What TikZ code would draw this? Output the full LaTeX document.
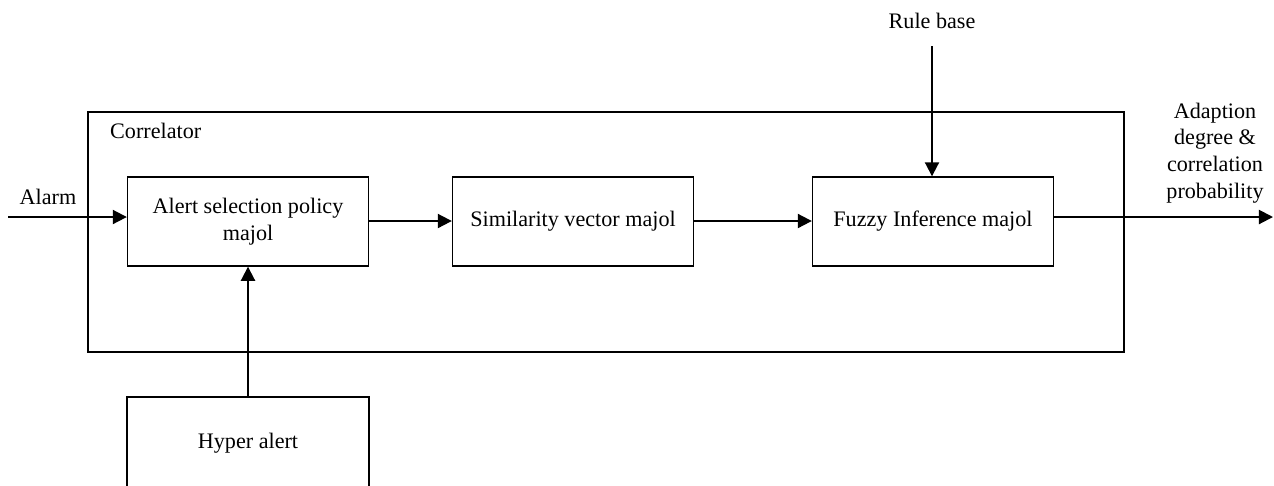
\documentclass[tikz,border=0pt]{standalone}
\usepackage{fontspec}
\setmainfont{Liberation Serif}
\usetikzlibrary{arrows.meta}

\tikzset{
  block/.style={draw,line width=0.8pt,minimum width=4.82cm,minimum height=1.78cm,align=center},
  flow/.style={line width=1.1pt,-{Triangle[length=8pt,width=8pt]}}
}

\begin{document}
\begin{tikzpicture}[x=0.02cm,y=-0.02cm,font=\fontsize{12.6}{15.2}\selectfont]
  \useasboundingbox (0,0) rectangle (1274,485);

  % Correlator frame
  \draw[line width=0.8pt] (88,112) rectangle (1124,352);
  \node[anchor=west] (corr) at (104,131) {Correlator};

  % Blocks inside the correlator
  \node[block] (asp) at (248,221.5) {Alert selection policy\\majol};
  \node[block] (sim) at (573,221.5) {Similarity vector majol};
  \node[block] (fuz) at (933,221.5) {Fuzzy Inference majol};

  % Hyper alert block (runs past the bottom edge)
  \draw[line width=0.8pt] (127,500) -- (127,397) -- (369,397) -- (369,500);
  \node (hyper) at (248,443) {Hyper alert};
  \coordinate (hypertop) at (248,397);

  % Inputs and outputs
  \coordinate (alarmin) at (8,217);
  \node (alarm) at (48,197) {Alarm};
  \node (rule) at (932,21) {Rule base};
  \coordinate (rulein) at (932,46);
  \coordinate (out) at (1273,217);
  \node[align=center] (outlbl) at (1215,153) {Adaption\\degree \&\\correlation\\probability};

  % Draw the connectors
  \draw[flow] (alarmin) -- (alarmin -| asp.west);
  \draw[flow] (asp.east |- 0,221) -- (sim.west |- 0,221);
  \draw[flow] (sim.east |- 0,221) -- (fuz.west |- 0,221);
  \draw[flow] (alarmin -| fuz.east) -- (out);
  \draw[flow] (rulein) -- (rulein |- fuz.north);
  \draw[flow] (hypertop) -- (asp.south);
\end{tikzpicture}
\end{document}
